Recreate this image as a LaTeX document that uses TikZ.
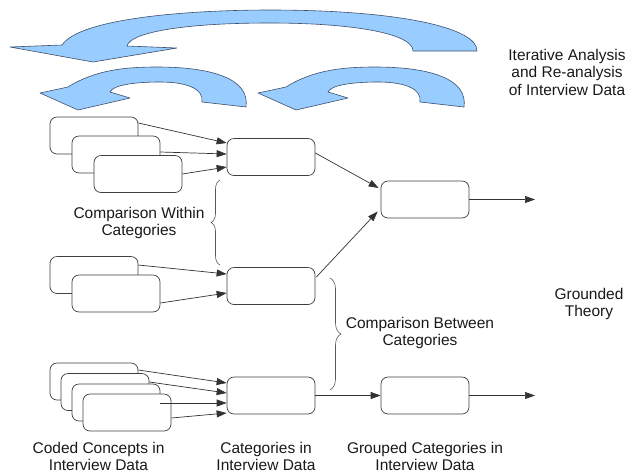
\documentclass[tikz,border=0pt]{standalone}
\usepackage{fontspec}
\setmainfont{Liberation Sans}
\usetikzlibrary{arrows.meta,calc,decorations.pathreplacing}
\begin{document}
\begin{tikzpicture}[x=1pt,y=-1pt,
  box/.style={draw=black!75, fill=white, rounded corners=7pt, minimum width=88pt, minimum height=37pt, line width=0.7pt, inner sep=0pt},
  conn/.style={draw=black!80, line width=0.7pt, -{Triangle[length=10pt,width=7pt]}},
  lbl/.style={align=center, font=\fontsize{15.5}{17.5}\selectfont, text=black!90, inner sep=0pt},
  brc/.style={draw=black!65, line width=0.6pt, decorate, decoration={brace, amplitude=#1}},
  loopshape/.style={fill={rgb,255:red,153;green,204;blue,255}, draw={rgb,255:red,60;green,80;blue,110}, line width=0.6pt, line join=round}]
\useasboundingbox (0,0) rectangle (627,475);

% iterative curved arrows
\path[loopshape] (62,45) .. controls (80,18) and (190,10) .. (270,10)
  .. controls (400,10) and (478,28) .. (477,51) -- (413,51)
  .. controls (413,33) and (350,23) .. (270,23)
  .. controls (180,23) and (130,33) .. (127,46)
  -- (177,48) -- (93,62) -- (10,47) -- cycle;
\foreach \dx in {0,218}{
\begin{scope}[xshift=\dx pt]
\path[loopshape] (68,87) .. controls (95,70) and (125,67) .. (157,67)
  .. controls (215,67) and (250,80) .. (246,107) -- (202,102)
  .. controls (204,88) and (185,82) .. (160,82)
  .. controls (135,82) and (113,85) .. (110,92)
  -- (130,98) -- (78,110) -- (40,93) -- cycle;
\end{scope}}

% coded concept boxes
\node[box] (a1) at (94,135.5) {};
\node[box] (a2) at (116,154.5) {};
\node[box] (a3) at (138,174) {};
\node[box] (b1) at (94,275) {};
\node[box] (b2) at (116,293.5) {};
\node[box] (d1) at (94,381.5) {};
\node[box] (d2) at (105,392) {};
\node[box] (d3) at (116,402.5) {};
\node[box] (d4) at (127,412.5) {};
% categories
\node[box] (c1) at (271,157) {};
\node[box] (c2) at (271,286) {};
\node[box] (c3) at (271,395.5) {};
% grouped categories
\node[box] (g1) at (425,199.5) {};
\node[box] (g2) at (425,395.5) {};
\coordinate (o1) at (535,199.5);
\coordinate (o2) at (535,395.5);

% connectors
\draw[conn] ($(a1.east)+(0,-12.5)$) -- ($(c1.west)+(0,-14)$);
\draw[conn] ($(a2.east)+(0,-2.5)$) -- ($(c1.west)+(0,-3)$);
\draw[conn] (a3.east) -- ($(c1.west)+(0,10)$);
\draw[conn] ($(b1.east)+(0,-10)$) -- ($(c2.west)+(0,-12)$);
\draw[conn] ($(b2.east)+(0,9.5)$) -- ($(c2.west)+(0,7)$);
\draw[conn] ($(d1.east)+(0,-11.5)$) -- ($(c3.west)+(0,-12.5)$);
\draw[conn] ($(d2.east)+(0,-10)$) -- ($(c3.west)+(0,-2.5)$);
\draw[conn] ($(d3.east)+(0,0.5)$) -- ($(c3.west)+(0,7.5)$);
\draw[conn] ($(d4.east)+(0,5.5)$) -- ($(c3.west)+(0,17.5)$);
\draw[conn] ($(c1.east)+(0,-4)$) -- ($(g1.west)+(-2,-11.5)$);
\draw[conn] ($(c2.east)+(1,-9)$) -- ($(g1.west)+(-3,12)$);
\draw[conn] (c3.east) -- (g2.west);
\draw[conn] (g1.east) -- (o1);
\draw[conn] (g2.east) -- (o2);

% braces
\draw[brc=9pt] (220,265) -- (220,180);
\draw[brc=11pt] (330,278) -- (330,390);

% labels
\node[lbl] (tIter) at (567,72) {Iterative Analysis\\and Re-analysis\\of Interview Data};
\node[lbl] (tWithin) at (139,223) {Comparison Within\\Categories};
\node[lbl] (tBetween) at (420,333) {Comparison Between\\Categories};
\node[lbl] (tTheory) at (589,304) {Grounded\\Theory};
\node[lbl] (tCoded) at (98.5,456.5) {Coded Concepts in\\Interview Data};
\node[lbl] (tCat) at (266,456.5) {Categories in\\Interview Data};
\node[lbl] (tGroup) at (425,456.5) {Grouped Categories in\\Interview Data};
\end{tikzpicture}
\end{document}
